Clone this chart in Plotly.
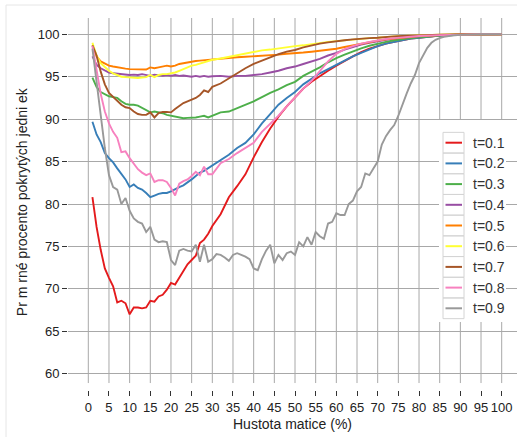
import plotly.graph_objects as go

# ---------------- data ----------------
x_main = list(range(1, 31)) + list(range(32, 81, 2)) + [85, 90, 95, 100]

t01 = [80.8, 77.3, 74.6, 72.4, 71.3, 70.3, 68.4, 68.6, 68.3, 67.0,
       67.8, 67.8, 67.7, 67.8, 68.6, 68.5, 69.1, 69.3, 69.9, 70.7,
       70.5, 71.3, 72.1, 72.9, 73.4, 73.9, 75.4, 75.8, 76.5, 77.4,
       78.8, 80.8, 82.1, 83.5, 85.5, 87.3, 88.9, 90.3, 91.5, 92.6,
       93.6, 94.4, 95.1, 95.7, 96.3, 96.9, 97.4, 97.9, 98.3, 98.6,
       98.9, 99.1, 99.3, 99.5, 99.6, 99.85, 99.95, 100.0, 100.0]
t02 = [89.7, 88.2, 87.3, 86.0, 85.4, 84.9, 84.2, 83.6, 82.9, 82.0,
       82.3, 81.9, 81.7, 81.3, 80.8, 81.0, 81.2, 81.3, 81.3, 81.5,
       81.8, 82.0, 82.2, 82.5, 82.9, 83.3, 83.7, 83.9, 84.2, 84.6,
       85.2, 85.8, 86.6, 87.2, 88.2, 89.5, 90.6, 91.7, 92.5, 93.2,
       94.1, 94.8, 95.4, 95.9, 96.4, 96.9, 97.4, 97.8, 98.2, 98.6,
       98.9, 99.1, 99.3, 99.5, 99.6, 99.85, 99.95, 100.0, 100.0]
t03 = [94.9, 93.8, 93.2, 92.9, 92.7, 92.6, 92.5, 92.1, 91.8, 91.7,
       91.7, 91.6, 91.3, 91.0, 90.8, 90.9, 90.8, 90.7, 90.5, 90.4,
       90.3, 90.2, 90.1, 90.15, 90.15, 90.2, 90.3, 90.4, 90.2, 90.4,
       90.8, 90.9, 91.3, 91.7, 92.1, 92.6, 93.1, 93.5, 94.0, 94.4,
       95.1, 95.6, 96.1, 96.7, 97.2, 97.6, 98.0, 98.35, 98.65, 98.9,
       99.1, 99.3, 99.45, 99.55, 99.65, 99.85, 99.95, 100.0, 100.0]
t04 = [97.4, 96.4, 96.0, 95.7, 95.5, 95.4, 95.35, 95.3, 95.3, 95.2,
       95.25, 95.2, 95.3, 95.2, 95.1, 95.25, 95.2, 95.1, 95.2, 95.1,
       95.2, 95.1, 95.15, 95.1, 95.0, 95.1, 95.0, 95.1, 95.0, 95.05,
       95.1, 95.0, 95.1, 95.1, 95.2, 95.3, 95.5, 95.7, 96.0, 96.2,
       96.5, 96.8, 97.1, 97.5, 97.8, 98.2, 98.5, 98.8, 99.0, 99.2,
       99.35, 99.5, 99.6, 99.7, 99.75, 99.9, 99.97, 100.0, 100.0]
t05 = [98.7, 97.4, 96.8, 96.5, 96.3, 96.2, 96.1, 96.0, 95.95, 95.9,
       95.9, 95.85, 95.9, 95.85, 96.1, 96.0, 96.1, 96.2, 96.3, 96.2,
       96.3, 96.5, 96.6, 96.7, 96.8, 96.85, 96.9, 96.95, 97.0, 97.05,
       97.15, 97.25, 97.3, 97.35, 97.4, 97.5, 97.55, 97.6, 97.7, 97.75,
       97.85, 97.95, 98.05, 98.2, 98.3, 98.5, 98.7, 98.9, 99.1, 99.25,
       99.4, 99.5, 99.6, 99.7, 99.8, 99.9, 99.97, 100.0, 100.0]
t06 = [99.0, 97.5, 96.6, 96.1, 95.7, 95.4, 95.2, 95.0, 94.95, 94.9,
       94.85, 94.85, 94.9, 94.95, 95.2, 94.95, 95.2, 95.3, 95.3, 95.4,
       95.5, 95.7, 95.9, 96.1, 96.3, 96.4, 96.55, 96.7, 96.9, 97.0,
       97.15, 97.35, 97.55, 97.7, 97.9, 98.1, 98.2, 98.35, 98.5, 98.6,
       98.7, 98.85, 99.0, 99.1, 99.2, 99.3, 99.4, 99.5, 99.55, 99.6,
       99.7, 99.75, 99.8, 99.85, 99.9, 99.95, 100.0, 100.0, 100.0]
t07 = [98.7, 97.5, 95.6, 94.1, 93.1, 92.6, 92.2, 91.7, 91.4, 91.3,
       90.9, 90.6, 90.5, 90.5, 90.8, 90.2, 90.7, 90.85, 90.85, 90.8,
       91.2, 91.6, 91.9, 92.1, 92.3, 92.5, 92.85, 93.4, 93.2, 93.8,
       94.2, 94.8, 95.5, 96.0, 96.5, 96.9, 97.3, 97.65, 97.95, 98.15,
       98.45, 98.7, 98.9, 99.05, 99.2, 99.3, 99.4, 99.5, 99.55, 99.6,
       99.7, 99.75, 99.8, 99.85, 99.9, 99.95, 100.0, 100.0, 100.0]
t08 = [98.6, 96.0, 93.0, 90.9, 89.5, 88.5, 87.8, 86.1, 86.2, 85.4,
       84.7, 84.1, 83.7, 83.4, 83.6, 82.6, 82.8, 82.8, 82.6, 81.9,
       81.0, 82.4, 82.7, 82.9, 83.3, 83.8, 83.4, 84.4, 83.5, 83.5,
       84.8, 85.3, 86.0, 86.6, 87.2, 88.5, 89.4, 90.4, 91.5, 92.6,
       93.6, 94.5, 95.6, 96.8, 97.7, 98.25, 98.6, 98.9, 99.1, 99.3,
       99.45, 99.55, 99.65, 99.75, 99.8, 99.9, 99.97, 100.0, 100.0]

x_gray = list(range(1, 87)) + [88, 90, 95, 100]
t09 = [98.3, 94.2, 90.0, 86.6, 83.4, 82.0, 81.7, 80.0, 80.7, 79.2,
       78.3, 77.9, 77.7, 76.7, 77.3, 75.8, 75.5, 75.6, 75.5, 73.4,
       72.8, 74.5, 74.7, 74.5, 74.4, 75.2, 73.2, 75.2, 73.2, 73.5,
       74.1, 74.0, 73.7, 73.3, 74.0, 74.2, 74.0, 73.8, 73.5, 72.4,
       72.2, 73.5, 74.5, 75.2, 73.0, 74.0, 73.4, 74.2, 74.4, 74.0,
       75.5, 75.0, 76.1, 75.2, 76.7, 76.2, 75.9, 77.7, 77.9, 78.9,
       78.7, 78.7, 80.0, 80.4, 81.5, 82.0, 83.6, 83.4, 84.2, 85.0,
       87.0, 88.0, 88.7, 89.3, 90.4, 91.8, 93.0, 94.2, 95.2, 96.6,
       97.6, 98.4, 99.0, 99.35, 99.55, 99.7, 99.85, 99.93, 100.0, 100.0]

labels = ["t=0.1", "t=0.2", "t=0.3", "t=0.4", "t=0.5", "t=0.6", "t=0.7", "t=0.8", "t=0.9"]
series_x = [x_main] * 8 + [x_gray]
series_y = [t01, t02, t03, t04, t05, t06, t07, t08, t09]
colors = ["#e41a1c", "#377eb8", "#4daf4a", "#984ea3", "#ff7f00",
          "#ffff33", "#a65628", "#f781bf", "#999999"]

x_ticks = list(range(0, 101, 5))
y_ticks = list(range(60, 101, 5))

x_title = "Hustota matice (%)"
y_title = "Pr m rné procento pokrytých jedni ek"

# ---------------- layout geometry (pixels) ----------------
W, H = 517, 437
L, R, T, B = 68, 517, 18, 390   # plot area edges in pixels
FONT = "Liberation Sans, Arial, Helvetica, sans-serif"
GRID = "#a8a8a8"


def px(xp):
    return (xp - L) / (R - L)


def py(yp):
    return (B - yp) / (B - T)


fig = go.Figure()
for xs, ys, lab, col in zip(series_x, series_y, labels, colors):
    fig.add_trace(go.Scatter(x=xs, y=ys, mode="lines", name=lab,
                             line=dict(color=col, width=1.9),
                             showlegend=False))

shapes = []
# figure border
shapes.append(dict(type="rect", xref="paper", yref="paper",
                   x0=px(6), x1=px(530), y0=py(450), y1=py(5),
                   line=dict(color="#e6e6e6", width=1), fillcolor="rgba(0,0,0,0)",
                   layer="above"))
# vertical grid lines (stop above the tick marks)
for xv in x_ticks:
    shapes.append(dict(type="line", xref="x", yref="y",
                       x0=xv, x1=xv, y0=58.9, y1=101.92,
                       line=dict(color=GRID, width=1), layer="below"))

# custom legend
row0, rowh = 142.7, 20.7
bx0, bx1 = 443, 464
shapes.append(dict(type="rect", xref="paper", yref="paper",
                   x0=px(439), x1=px(506), y0=py(322), y1=py(120),
                   line=dict(width=0), fillcolor="white", layer="above"))
annotations = []
for i, (lab, col) in enumerate(zip(labels, colors)):
    yc = row0 + rowh * i
    shapes.append(dict(type="rect", xref="paper", yref="paper",
                       x0=px(bx0), x1=px(bx1), y0=py(yc + rowh / 2), y1=py(yc - rowh / 2),
                       line=dict(color="#d4d4d4", width=1), fillcolor="rgba(0,0,0,0)",
                       layer="above"))
    shapes.append(dict(type="line", xref="paper", yref="paper",
                       x0=px(445.5), x1=px(462), y0=py(yc), y1=py(yc),
                       line=dict(color=col, width=2), layer="above"))
    annotations.append(dict(xref="paper", yref="paper", x=px(470.5), y=py(yc),
                            text=lab, showarrow=False, xanchor="left", yanchor="middle",
                            font=dict(family=FONT, size=14, color="#333333")))

annotations.append(dict(xref="paper", yref="paper", x=px(292.9), y=py(424),
                        text=x_title, showarrow=False, xanchor="center", yanchor="middle",
                        font=dict(family=FONT, size=14, color="#222222")))
annotations.append(dict(xref="paper", yref="paper", x=px(21.7), y=py(201.5),
                        text=y_title, showarrow=False, textangle=-90,
                        xanchor="center", yanchor="middle",
                        font=dict(family=FONT, size=14, color="#222222")))

fig.update_layout(
    width=W, height=H,
    margin=dict(l=L, r=W - R, t=T, b=H - B, pad=0),
    paper_bgcolor="white", plot_bgcolor="white",
    font=dict(family=FONT, size=13, color="#222222"),
    shapes=shapes, annotations=annotations,
    showlegend=False,
    xaxis=dict(range=[(L - 88.3) / 4.134, (R - 88.3) / 4.134],
               tickmode="array", tickvals=x_ticks, ticktext=[str(v) for v in x_ticks],
               showgrid=False, zeroline=False, showline=False,
               ticks="outside", ticklen=5, tickwidth=1.3, tickcolor="#333333",
               tickfont=dict(family=FONT, size=13, color="#222222")),
    yaxis=dict(range=[58.08, 101.92],
               tickmode="array", tickvals=y_ticks, ticktext=[str(v) for v in y_ticks],
               showgrid=True, gridcolor=GRID, gridwidth=1,
               zeroline=False, showline=False,
               ticks="outside", ticklen=5, tickwidth=1.3, tickcolor="#333333",
               tickfont=dict(family=FONT, size=13, color="#222222")),
)

fig.write_html("out.html")
